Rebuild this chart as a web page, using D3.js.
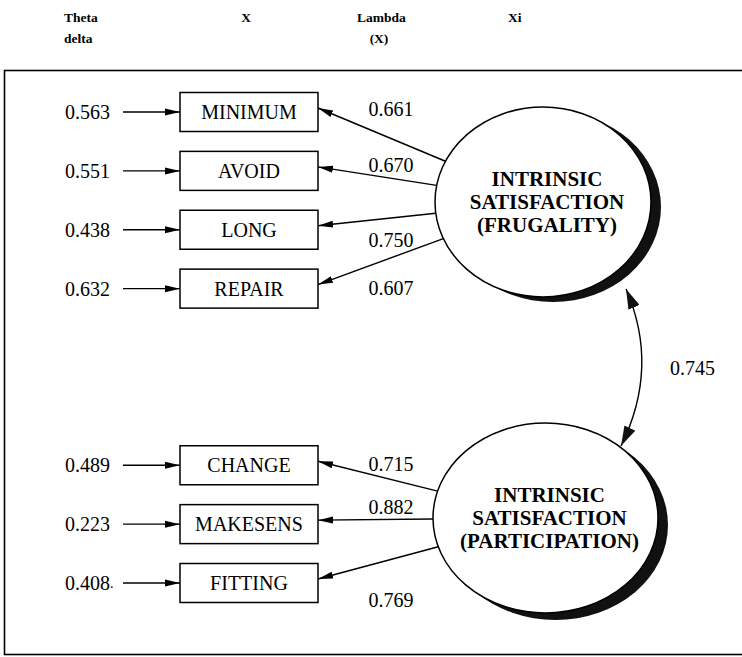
<!DOCTYPE html>
<html><head><meta charset="utf-8">
<script src="https://cdn.jsdelivr.net/npm/d3@7/dist/d3.min.js"></script>
<style>html,body{margin:0;padding:0;background:#fff;}svg{display:block;}</style>
</head><body>
<script>
// ---- data ----
const headers = [["Theta","delta"],["X"],["Lambda","(X)"],["Xi"]];
const indicators = ["MINIMUM","AVOID","LONG","REPAIR","CHANGE","MAKESENS","FITTING"];
const thetaDelta = [0.563, 0.551, 0.438, 0.632, 0.489, 0.223, 0.408];
const lambdaX = [0.661, 0.670, 0.750, 0.607, 0.715, 0.882, 0.769];
const indicatorFactor = [0,0,0,0,1,1,1];
const factors = [["INTRINSIC","SATISFACTION","(FRUGALITY)"],["INTRINSIC","SATISFACTION","(PARTICIPATION)"]];
const phi = 0.745;

// ---- layout ----
const W = 742, H = 657;
const rowIndex = [0,1,2,3,6,7,8];
const labelDy = [-3,-6,10,-1,-1,-17,17];
const thetaSuffix = ["","","","","","","."];
const y = d3.scaleLinear().domain([0,8]).range([112,583]);
const boxX = 180, boxW = 138, boxH = 39;
const ell = [{cx:543, cy:202, rx:108, ry:95, sdx:10, sdy:5},{cx:545.5, cy:518, rx:112.5, ry:95, sdx:10, sdy:7}];
const serif = "'Liberation Serif','DejaVu Serif',serif";

const svg = d3.select("body").append("svg").attr("width",W).attr("height",H);
const defs = svg.append("defs");
defs.append("marker").attr("id","ah").attr("viewBox","0 0 15 8").attr("refX",15).attr("refY",4)
  .attr("markerWidth",15).attr("markerHeight",8).attr("markerUnits","userSpaceOnUse").attr("orient","auto")
  .append("path").attr("d","M0,0.5 L15,4 L0,7.5 Z").attr("fill","#000");
defs.append("marker").attr("id","ah2").attr("viewBox","0 0 20 12").attr("refX",20).attr("refY",6)
  .attr("markerWidth",20).attr("markerHeight",12).attr("markerUnits","userSpaceOnUse").attr("orient","auto-start-reverse")
  .append("path").attr("d","M0,0 L20,6 L0,12 Z").attr("fill","#111");

// headers
const hx = [{x:64,a:"start"},{x:246,a:"middle"},{x:357,a:"start"},{x:508,a:"start"}];
headers.forEach((h,i)=>{
  h.forEach((t,j)=>{
    svg.append("text").attr("x", (i===2&&j===1)?379:hx[i].x).attr("y",22+j*21)
      .attr("text-anchor",(i===2&&j===1)?"middle":hx[i].a)
      .attr("font-family",serif).attr("font-weight","bold").attr("font-size",13.5).text(t);
  });
});

// frame
svg.append("rect").attr("x",4.5).attr("y",70.5).attr("width",800).attr("height",584)
  .attr("fill","none").attr("stroke","#000").attr("stroke-width",1.6);

// indicator rows
const rows = svg.append("g");
indicators.forEach((name,i)=>{
  const cy = y(rowIndex[i]);
  rows.append("rect").attr("x",boxX).attr("y",cy-boxH/2).attr("width",boxW).attr("height",boxH)
    .attr("fill","#fff").attr("stroke","#000").attr("stroke-width",1.5);
  rows.append("text").attr("x",boxX+boxW/2).attr("y",cy).attr("dy","0.35em").attr("text-anchor","middle")
    .attr("font-family",serif).attr("font-size",20).text(name);
  rows.append("text").attr("x",110).attr("y",cy).attr("dy","0.35em").attr("text-anchor","end")
    .attr("font-family",serif).attr("font-size",20).text(thetaDelta[i].toFixed(3));
  if (thetaSuffix[i]) rows.append("text").attr("x",110).attr("y",cy).attr("dy","0.35em")
    .attr("font-family",serif).attr("font-size",14).text(thetaSuffix[i]);
  rows.append("line").attr("x1",123).attr("x2",boxX).attr("y1",cy).attr("y2",cy)
    .attr("stroke","#000").attr("stroke-width",1.4).attr("marker-end","url(#ah)");
  // loading arrow from ellipse boundary toward box
  const e = ell[indicatorFactor[i]];
  const tx = boxX+boxW, ty = cy-4;
  const dx = e.cx - tx, dy = e.cy - ty;
  const t = 1/Math.sqrt((dx/e.rx)**2 + (dy/e.ry)**2);
  const sx = e.cx - dx*t, sy = e.cy - dy*t;
  rows.append("line").attr("x1",sx).attr("y1",sy).attr("x2",tx).attr("y2",ty)
    .attr("stroke","#000").attr("stroke-width",1.4).attr("marker-end","url(#ah)");
  rows.append("text").attr("x",391).attr("y",cy+labelDy[i]).attr("dy","0.35em").attr("text-anchor","middle")
    .attr("font-family",serif).attr("font-size",20).text(lambdaX[i].toFixed(3));
});

// factors
ell.forEach((e,k)=>{
  svg.append("ellipse").attr("cx",e.cx+e.sdx).attr("cy",e.cy+e.sdy).attr("rx",e.rx).attr("ry",e.ry).attr("fill","#111");
  svg.append("ellipse").attr("cx",e.cx).attr("cy",e.cy).attr("rx",e.rx).attr("ry",e.ry)
    .attr("fill","#fff").attr("stroke","#000").attr("stroke-width",1.5);
  factors[k].forEach((t,j)=>{
    svg.append("text").attr("x",e.cx+4).attr("y",e.cy-23+j*23).attr("dy","0.35em").attr("text-anchor","middle")
      .attr("font-family",serif).attr("font-weight","bold").attr("font-size",21).text(t);
  });
});

// covariance
const p0 = [626, 289], p1 = [621, 446];
svg.append("path").attr("d",`M${p0[0]},${p0[1]} Q660,367 ${p1[0]},${p1[1]}`)
  .attr("fill","none").attr("stroke","#000").attr("stroke-width",1.4)
  .attr("marker-start","url(#ah2)").attr("marker-end","url(#ah2)");
svg.append("text").attr("x",670).attr("y",368).attr("dy","0.35em")
  .attr("font-family",serif).attr("font-size",20).text(phi.toFixed(3));
</script>
</body></html>
